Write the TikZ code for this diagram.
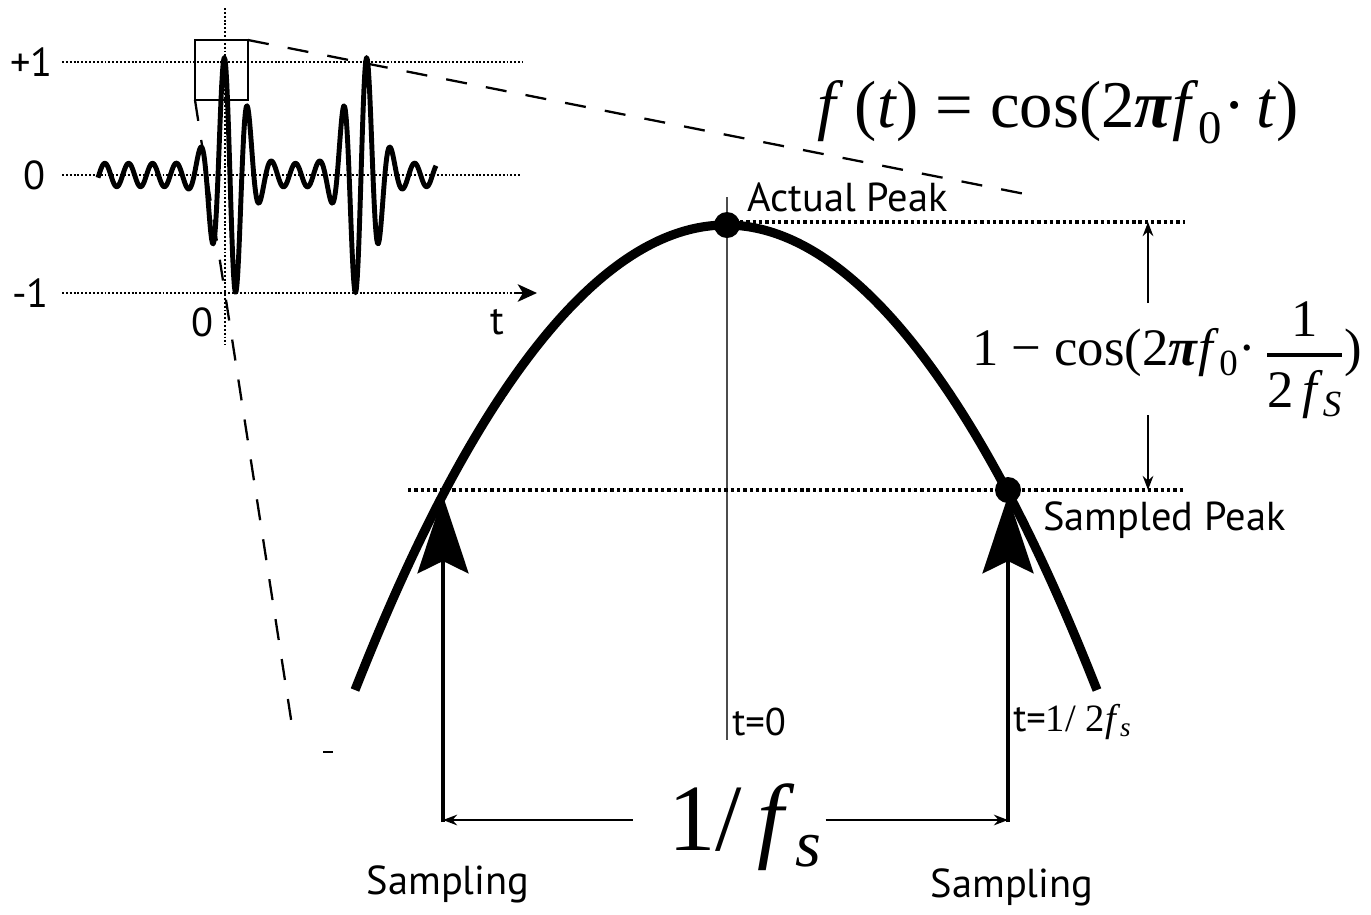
\documentclass[tikz,border=0pt]{standalone}
\usepackage{fontspec}
\setmainfont{PT Sans}
\newfontfamily\tms{Liberation Serif}
\usepackage{amsmath}
\usetikzlibrary{arrows.meta, positioning}
\newcommand{\fsz}[1]{\fontsize{#1}{#1}\selectfont}

\begin{document}
\begin{tikzpicture}[
    x=0.02cm, y=-0.02cm,
    >=Stealth,
    guide/.style={line width=1.5pt, dash pattern=on 1.1pt off 1.1pt},
    level/.style={line width=1.9pt, dash pattern=on 1.9pt off 1.7pt},
    zoomline/.style={line width=1.3pt, dash pattern=on 12pt off 11pt},
    wave/.style={line width=2.8pt, line join=round},
    curve/.style={line width=5.2pt},
    sample/.style={line width=2.5pt, -{Stealth[length=44pt, width=29pt, inset=7pt]}},
    dimline/.style={line width=1.6pt, -{Stealth[length=8pt, width=6pt]}},
    lbl/.style={font=\fsz{23}, inner sep=0pt},
    eqn/.style={font=\tms\fsz{#1}, inner sep=0pt},
  ]

  \useasboundingbox (0,0) rectangle (1371,914);

  % Inset: pulse train
  \draw[wave] plot[domain=98:436, samples=400]
    (\x, {175 - 117*cos(15.105*(\x-224))*(0.1 + 0.977*(exp(-min(((\x-230)/21)^2, 9)) + exp(-min(((\x-361)/21)^2, 9))))});

  \draw[guide] (62,62) -- (522,62);
  \draw[guide] (62,175) -- (520,175);
  \draw[guide] (62,293) -- (522,293);
  \draw[line width=1.3pt, -{Stealth[length=11pt, width=10pt, inset=3pt]}] (516,293) -- (537,293);
  \draw[guide] (225,8) -- (225,345);

  \node[lbl, anchor=east] (yp1) at (53,62) {+1};
  \node[lbl] (y0) at (35,175) {0};
  \node[lbl, anchor=east] (ym1) at (49,293) {-1};
  \node[lbl] (t0) at (203,322) {0};
  \node[lbl] (taxis) at (497,322) {t};

  % Zoom box and its rays
  \coordinate (boxbl) at (195,100);
  \coordinate (boxtr) at (248,40);
  \draw[line width=1.2pt] (boxbl) rectangle (boxtr);
  \draw[zoomline] (boxtr) -- (1030,195);
  \draw[zoomline] (boxbl) -- (293,732);
  \draw[line width=1pt] (323,752) -- (333,752);

  % Zoomed peak
  \coordinate (top) at (727,225);
  \coordinate (smp) at (1008,490);
  \draw[line width=0.8pt, black!70] (727,197) -- (727,740);
  \draw[curve] (355,690) parabola bend (726,225) (1097,690);
  \draw[level] (740,222) -- (1185,222);
  \draw[level] (408,490) -- (1185,490);
  \fill (top) circle[radius=13];
  \fill (smp) circle[radius=13];

  \node[lbl, anchor=west] (actual) at (747,197) {Actual Peak};
  \node[lbl, anchor=west] (sampled) at (1043,520) {Sampled Peak};

  % Peak error
  \draw[dimline] (1148,303) -- (1148,222);
  \draw[dimline] (1148,415) -- (1148,490);
  \node[eqn=30] (error) at (1167,360)
    {1 − cos(2\textit{\textbf{π}}\textit{f}\textsubscript{0}·\,$\genfrac{}{}{2.5pt}{0}{\mbox{\tms 1}}{\mbox{\tms 2\,\textit{f}\textsubscript{\textit{S}}}}$)};

  \node[eqn=38] (cosine) at (1058,112)
    {\textit{f}\,(\textit{t}) = cos(2\textit{\textbf{π}}\textit{f}\textsubscript{0}·\,\textit{t})};

  % Sampling instants
  \coordinate (sl) at (443,820);
  \coordinate (sr) at (1008,820);
  \draw[sample] (443,822) -- (443,496);
  \draw[sample] (1008,822) -- (1008,496);

  \node[lbl, font=\fsz{22}, anchor=west] (tzero) at (732,722) {t=0};
  \node[lbl, font=\fsz{22}, anchor=west] (thalf) at (1013,722)
    {t={\tms 1/ 2\textit{f}\textsubscript{\textit{s}}}};

  \node[eqn=54, anchor=base, inner xsep=2pt] (period) at (745,850)
    {1/\,\textit{f}\textsubscript{\textit{s}}};
  \draw[dimline] ([xshift=-18pt]period.west |- sl) -- (sl);
  \draw[dimline] (period.east |- sr) -- (sr);

  \node[lbl] (samp1) at (448,884) {Sampling};
  \node[lbl] (samp2) at (1012,887) {Sampling};

\end{tikzpicture}
\end{document}
